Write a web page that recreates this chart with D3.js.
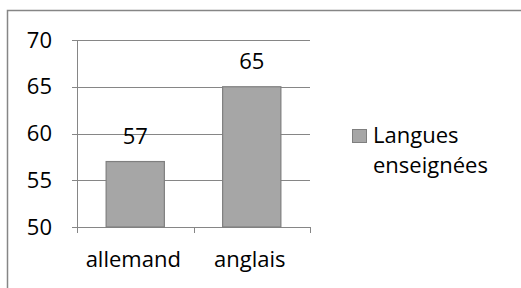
<!DOCTYPE html>
<html>
<head>
<meta charset="utf-8">
<script src="https://cdn.jsdelivr.net/npm/d3@7"></script>
<style>
  body { margin: 0; background: #fff; }
  text { font-family: "Open Sans", Lato, sans-serif; fill: #000; }
</style>
</head>
<body>
<div id="chart"></div>
<script>
var categories = ["allemand", "anglais"];
var values = [57, 65];
var yTicks = [50, 55, 60, 65, 70];
var seriesName = ["Langues", "enseignées"];

var width = 521, height = 288;
var svg = d3.select("#chart").append("svg").attr("width", width).attr("height", height);

// chart border, runs off the right and bottom edges
svg.append("rect")
  .attr("x", 7.5).attr("y", 10.5)
  .attr("width", 530).attr("height", 300)
  .attr("fill", "none").attr("stroke", "#868686").attr("stroke-width", 1.5);

var plotLeft = 77, plotRight = 310, plotTop = 40, plotBottom = 227;

var x = d3.scaleBand().domain(categories).range([plotLeft, plotRight]).paddingInner(0.5).paddingOuter(0.25);
var y = d3.scaleLinear().domain([50, 70]).range([plotBottom, plotTop]);

// gridlines
svg.selectAll(".grid")
  .data(yTicks)
  .enter()
  .append("line")
  .attr("x1", plotLeft - 5).attr("x2", plotRight)
  .attr("y1", function (d) { return Math.round(y(d)) + 0.5; })
  .attr("y2", function (d) { return Math.round(y(d)) + 0.5; })
  .attr("stroke", "#868686").attr("stroke-width", 1);

// y axis line
svg.append("line")
  .attr("x1", plotLeft + 0.5).attr("x2", plotLeft + 0.5)
  .attr("y1", plotTop).attr("y2", plotBottom + 6)
  .attr("stroke", "#868686");

// category tick marks
var catEdges = [plotLeft, (plotLeft + plotRight) / 2, plotRight];
svg.selectAll(".ctick")
  .data(catEdges)
  .enter()
  .append("line")
  .attr("x1", function (d) { return Math.round(d) + 0.5; })
  .attr("x2", function (d) { return Math.round(d) + 0.5; })
  .attr("y1", plotBottom).attr("y2", plotBottom + 6)
  .attr("stroke", "#868686");

// bars
svg.selectAll(".bar")
  .data(values)
  .enter()
  .append("rect")
  .attr("x", function (d, i) { return x(categories[i]); })
  .attr("y", function (d) { return y(d); })
  .attr("width", x.bandwidth())
  .attr("height", function (d) { return plotBottom - y(d); })
  .attr("fill", "#a6a6a6").attr("stroke", "#7f7f7f").attr("stroke-width", 1.2);

// value labels
svg.selectAll(".val")
  .data(values)
  .enter()
  .append("text")
  .attr("x", function (d, i) { return x(categories[i]) + x.bandwidth() / 2; })
  .attr("y", function (d) { return y(d) - 18; })
  .attr("text-anchor", "middle")
  .style("font-size", "22px")
  .text(function (d) { return d; });

// y tick labels
svg.selectAll(".ylab")
  .data(yTicks)
  .enter()
  .append("text")
  .attr("x", 52)
  .attr("y", function (d) { return y(d) + 7.5; })
  .attr("text-anchor", "end")
  .style("font-size", "22px")
  .text(function (d) { return d; });

// category labels
svg.selectAll(".xlab")
  .data(categories)
  .enter()
  .append("text")
  .attr("x", function (d) { return x(d) + x.bandwidth() / 2 - 2; })
  .attr("y", 267)
  .attr("text-anchor", "middle")
  .style("font-size", "22px")
  .text(function (d) { return d; });

// legend
svg.append("rect")
  .attr("x", 352.5).attr("y", 129.5)
  .attr("width", 14).attr("height", 13)
  .attr("fill", "#a6a6a6").attr("stroke", "#7f7f7f");

svg.selectAll(".leg")
  .data(seriesName)
  .enter()
  .append("text")
  .attr("x", 373)
  .attr("y", function (d, i) { return 143 + i * 30; })
  .style("font-size", "22px")
  .text(function (d) { return d; });
</script>
</body>
</html>
